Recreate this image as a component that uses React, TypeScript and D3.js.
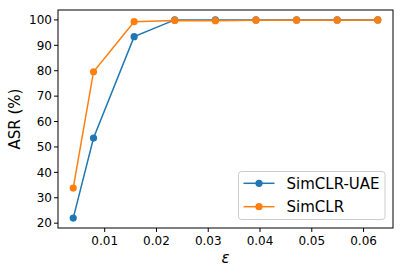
import React from "react";
import * as d3 from "d3";

const epsilons = [1, 2, 4, 6, 8, 10, 12, 14, 16].map((k) => k / 255);
const uaeValues = [22.0, 53.5, 93.4, 100, 100, 100, 100, 100, 100];
const simclrValues = [33.8, 79.6, 99.3, 99.8, 99.7, 99.9, 99.9, 99.9, 100];
const xTicks = [0.01, 0.02, 0.03, 0.04, 0.05, 0.06];
const yTicks = [20, 30, 40, 50, 60, 70, 80, 90, 100];
const seriesNames = ["SimCLR-UAE", "SimCLR"];
const colors = ["#1f77b4", "#ff7f0e"];

const W = 403, H = 274;
const L = 58, R = 393, T = 10, B = 228;

export default function App() {
  const xMin = d3.min(epsilons)!, xMax = d3.max(epsilons)!;
  const xm = (xMax - xMin) * 0.05;
  const allY = [...uaeValues, ...simclrValues];
  const yMin = d3.min(allY)!, yMax = d3.max(allY)!;
  const ym = (yMax - yMin) * 0.05;
  const x = d3.scaleLinear().domain([xMin - xm, xMax + xm]).range([L, R]);
  const y = d3.scaleLinear().domain([yMin - ym, yMax + ym]).range([B, T]);
  const line = d3.line<number>().x((_, i) => x(epsilons[i])).y((d) => y(d));
  const series = [uaeValues, simclrValues];
  const font = "DejaVu Sans, sans-serif";
  return (
    <svg width={W} height={H} style={{ position: "absolute", left: 0, top: 0 }} fontFamily={font}>
      <rect width={W} height={H} fill="#fff" />
      {series.map((s, si) => (
        <g key={si}>
          <path d={line(s)!} fill="none" stroke={colors[si]} strokeWidth={1.5} />
          {s.map((v, i) => (
            <circle key={i} cx={x(epsilons[i])} cy={y(v)} r={3.6} fill={colors[si]} />
          ))}
        </g>
      ))}
      <rect x={L} y={T} width={R - L} height={B - T} fill="none" stroke="#000" strokeWidth={1} />
      {xTicks.map((t) => (
        <g key={t}>
          <line x1={x(t)} x2={x(t)} y1={B} y2={B + 4} stroke="#000" />
          <text x={x(t)} y={B + 17} fontSize={12} textAnchor="middle" fill="#000">{t.toFixed(2)}</text>
        </g>
      ))}
      {yTicks.map((t) => (
        <g key={t}>
          <line x1={L - 4} x2={L} y1={y(t)} y2={y(t)} stroke="#000" />
          <text x={L - 6} y={y(t) + 4.3} fontSize={12} textAnchor="end" fill="#000">{t}</text>
        </g>
      ))}
      <text transform={`translate(20,${(T + B) / 2}) rotate(-90)`} fontSize={15} textAnchor="middle" fill="#000">ASR (%)</text>
      <text x={(L + R) / 2} y={263} fontSize={15} fontStyle="italic" textAnchor="middle" fill="#000">ε</text>
      <g>
        <rect x={238.5} y={171.5} width={146.5} height={48} rx={3} fill="#fff" fillOpacity={0.8} stroke="#ccc" />
        {seriesNames.map((n, i) => {
          const yy = 183.3 + i * 23.4;
          return (
            <g key={n}>
              <line x1={243.5} x2={274.5} y1={yy} y2={yy} stroke={colors[i]} strokeWidth={1.5} />
              <circle cx={259} cy={yy} r={3.6} fill={colors[i]} />
              <text x={286.5} y={yy + 5.4} fontSize={15} fill="#000">{n}</text>
            </g>
          );
        })}
      </g>
    </svg>
  );
}
